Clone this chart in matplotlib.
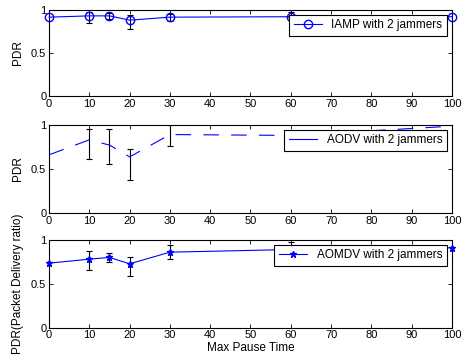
import numpy as np
import matplotlib
matplotlib.use('Agg')
import matplotlib.pyplot as plt

plt.rcParams['font.family'] = ['Liberation Sans', 'DejaVu Sans']
plt.rcParams['font.size'] = 8

pause = [0, 10, 15, 20, 30, 60, 100]

iamp = [0.915, 0.93, 0.93, 0.88, 0.915, 0.92, 0.92]
iamp_lo = [0, 0.08, 0.035, 0.105, 0.04, 0.0, 0]
iamp_hi = [0, 0.05, 0.03, 0.06, 0.035, 0.057, 0]

aodv = [0.66, 0.83, 0.77, 0.636, 0.89, 0.88, 0.985]
aodv_lo = [0, 0.22, 0.21, 0.266, 0.13, 0.05, 0]
aodv_hi = [0, 0.125, 0.188, 0.094, 0.11, 0.05, 0]

aomdv = [0.735, 0.78, 0.80, 0.727, 0.86, 0.89, 0.91]
aomdv_lo = [0, 0.12, 0.054, 0.137, 0.08, 0.0, 0]
aomdv_hi = [0, 0.098, 0.056, 0.083, 0.08, 0.09, 0]

fig = plt.figure(figsize=(4.63, 3.64), dpi=100)
boxes = [[0.106, 0.736, 0.870, 0.237],
         [0.106, 0.415, 0.870, 0.242],
         [0.106, 0.100, 0.870, 0.241]]

series = [
    (iamp, iamp_lo, iamp_hi, 'IAMP with 2 jammers', dict(marker='o', ls='-', ms=6, mfc='none')),
    (aodv, aodv_lo, aodv_hi, 'AODV with 2 jammers', dict(marker='None', ls=(0, (14, 11)))),
    (aomdv, aomdv_lo, aomdv_hi, 'AOMDV with 2 jammers', dict(marker='*', ls='-', ms=5)),
]
ylabels = ['PDR', 'PDR', 'PDR(Packet Delivery ratio)']

x = np.array(pause)
for i, (vals, lo, hi, name, style) in enumerate(series):
    ax = fig.add_axes(boxes[i])
    v = np.array(vals)
    lo = np.array(lo)
    hi = np.array(hi)
    m = (lo > 0) | (hi > 0)
    ax.errorbar(x[m], v[m], yerr=[lo[m], hi[m]], fmt='none', ecolor='black',
                elinewidth=0.8, capsize=2, capthick=0.8, zorder=2)
    ax.plot(x, v, color='blue', lw=0.8, mec='blue', label=name, zorder=3,
            clip_on=False, **style)
    ax.set_xlim(0, 100)
    ax.set_ylim(0, 1)
    ax.set_xticks(range(0, 101, 10))
    ax.set_yticks([0, 0.5, 1])
    ax.set_yticklabels(['0', '0.5', '1'])
    ax.tick_params(direction='in', top=True, right=True, length=3, width=0.6, pad=2)
    for s in ax.spines.values():
        s.set_linewidth(0.8)
    ax.set_ylabel(ylabels[i], labelpad=5, fontsize=8.5)
    leg = ax.legend(loc='upper right', fancybox=False, framealpha=1,
                    edgecolor='black', borderaxespad=0.4, handlelength=2.4,
                    borderpad=0.4, fontsize=8.5)
    leg.get_frame().set_linewidth(0.8)
    # legend sample drawn solid, like the original
    leg.get_lines()[0].set_linestyle('-')
    if i == 2:
        ax.set_xlabel('Max Pause Time', labelpad=1, fontsize=8.5)

fig.savefig('out.png', dpi=100)
